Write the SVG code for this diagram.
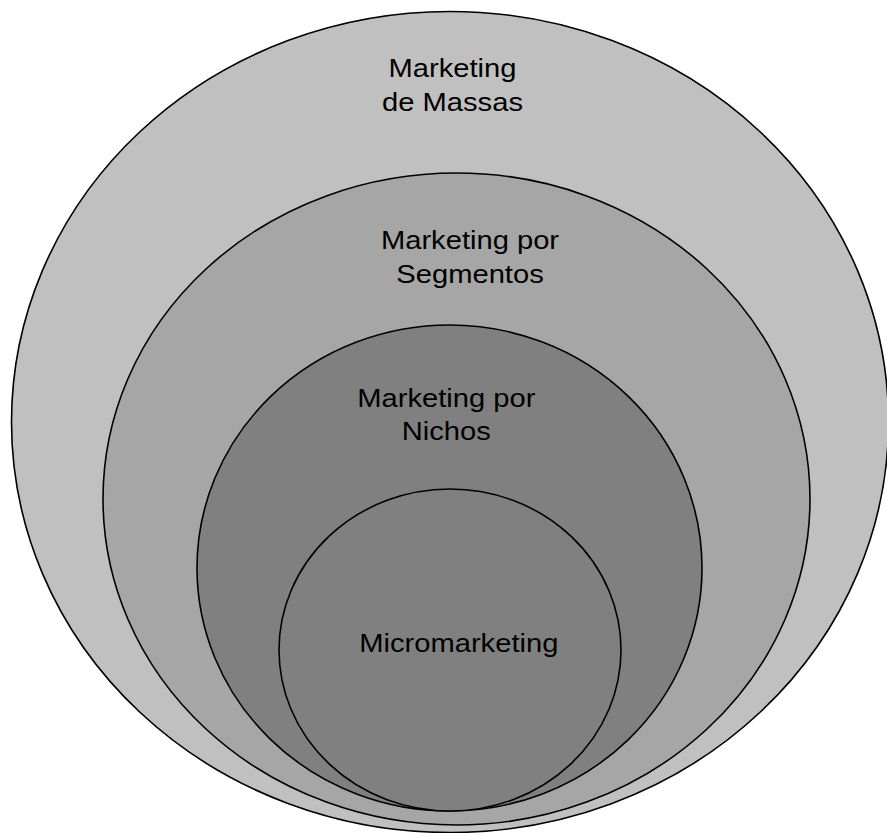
<svg xmlns="http://www.w3.org/2000/svg" width="887" height="833" viewBox="0 0 887 833">
  <style>
    .ring { stroke: #000000; stroke-width: 1.6; }
    .label { font-family: "Liberation Sans", Arial, sans-serif; font-size: 26.5px; fill: #000000; text-anchor: middle; }
  </style>
  <rect width="887" height="833" fill="#ffffff"/>

  <!-- Nested market levels, outermost first -->
  <g id="massas">
    <ellipse class="ring" cx="450" cy="422" rx="438.5" ry="410.5" fill="#c0c0c0"/>
    <g transform="translate(452.5 0) scale(1.1 1)">
      <text class="label" x="0" y="77.3">Marketing</text>
      <text class="label" x="0" y="110.7">de Massas</text>
    </g>
  </g>

  <g id="segmentos">
    <ellipse class="ring" cx="456.5" cy="499" rx="353.5" ry="326" fill="#a6a6a6"/>
    <g transform="translate(470 0) scale(1.1 1)">
      <text class="label" x="0" y="249.3">Marketing por</text>
      <text class="label" x="0" y="282.7">Segmentos</text>
    </g>
  </g>

  <g id="nichos">
    <ellipse class="ring" cx="449.5" cy="568" rx="252.5" ry="243" fill="#808080"/>
    <g transform="translate(446.3 0) scale(1.1 1)">
      <text class="label" x="0" y="406.7">Marketing por</text>
      <text class="label" x="0" y="440">Nichos</text>
    </g>
  </g>

  <g id="micromarketing">
    <ellipse class="ring" cx="450" cy="650" rx="171" ry="161" fill="#808080"/>
    <g transform="translate(458.8 0) scale(1.1 1)">
      <text class="label" x="0" y="651.7">Micromarketing</text>
    </g>
  </g>

  <!-- No connectors in this figure -->
  <g id="connectors"/>
</svg>
